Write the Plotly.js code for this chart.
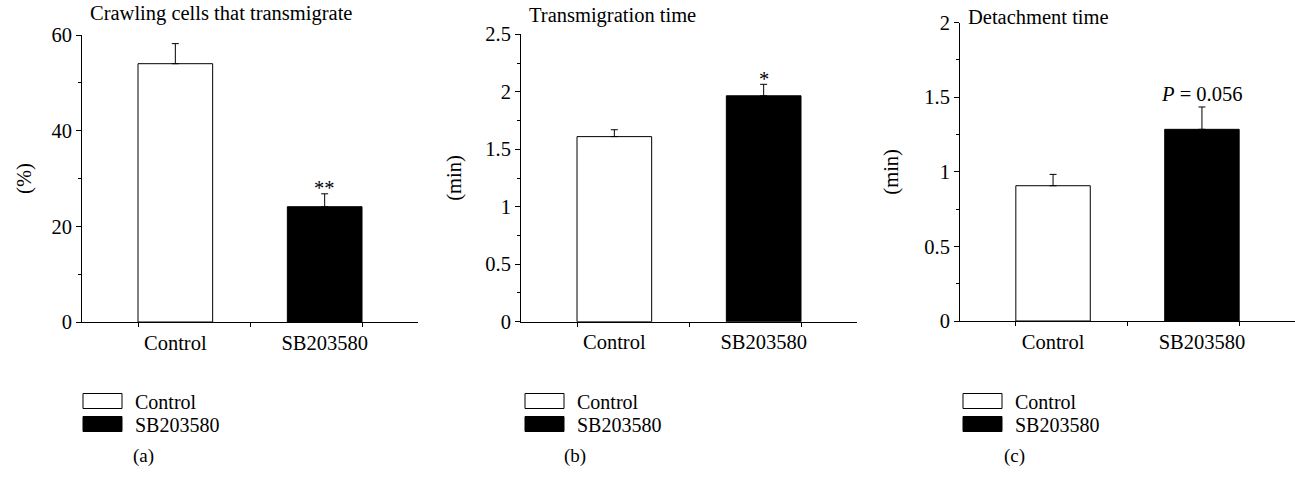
<!DOCTYPE html>
<html><head><meta charset="utf-8">
<script src="https://cdn.plot.ly/plotly-3.0.1.min.js"></script>
<style>
html,body{margin:0;padding:0;background:#fff;}
#chart{width:1295px;height:479px;}
</style></head><body><div id="chart"></div>
<script>
// ---- data ----
const categories = ['Control', 'SB203580'];
const crawlMean = [54.0, 24.1];
const crawlErr = [4.2, 2.7];
const transMean = [1.61, 1.965];
const transErr = [0.06, 0.10];
const detachMean = [0.907, 1.285];
const detachErr = [0.076, 0.15];
const panelTitles = ['Crawling cells that transmigrate', 'Transmigration time', 'Detachment time'];
const yTitles = ['(%)', '(min)', '(min)'];
const panelLetters = ['(a)', '(b)', '(c)'];
const sigLabels = ['**', '*', '<i>P</i> = 0.056'];
const yRanges = [[0, 60], [0, 2.5], [0, 2]];
const yMajor = [20, 0.5, 0.5];
const yMinor = [10, 0.25, 0.25];

// ---- layout geometry ----
const W = 1295, H = 479;
const FONT = 'Liberation Serif, Times New Roman, serif';
const FS = 20.5;
const xDom = [[82 / W, 418 / W], [521 / W, 857 / W], [960 / W, 1]];
const yDom = [[1 - 322 / H, 1 - 35 / H], [1 - 321.7 / H, 1 - 34.3 / H], [1 - 321 / H, 1 - 22.7 / H]];
const xRange = [-0.625, 1.625];
const fills = ['#ffffff', '#000000'];

const panels = [
  {mean: crawlMean, err: crawlErr},
  {mean: transMean, err: transErr},
  {mean: detachMean, err: detachErr}
];

const traces = [];
const annotations = [];
const layout = {
  width: W, height: H,
  margin: {l: 0, r: 0, t: 0, b: 0},
  paper_bgcolor: '#fff', plot_bgcolor: '#fff',
  barmode: 'overlay',
  font: {family: FONT, size: FS, color: '#000'},
  showlegend: true,
  annotations: annotations
};

const titleY = [1 - 14 / H, 1 - 16 / H, 1 - 17 / H];
const letterX = [143 / W, 575 / W, 1014 / W];
const legendX = [70 / W, 512 / W, 950 / W];
const legendRowY = [1 - 401 / H, 1 - 424 / H];
const sigShift = [-7, -8, 0];
const yStandoff = [14, 18, 20];

panels.forEach((p, k) => {
  const sfx = k === 0 ? '' : String(k + 1);
  categories.forEach((c, i) => {
    const n = k * 2 + i;
    const legName = n === 0 ? 'legend' : 'legend' + (n + 1);
    traces.push({
      type: 'bar',
      x: [i], y: [p.mean[i]],
      width: 0.5,
      name: c,
      legend: legName,
      xaxis: 'x' + sfx, yaxis: 'y' + sfx,
      marker: {color: fills[i], line: {color: '#000', width: 1}},
      error_y: {type: 'data', array: [p.err[i]], arrayminus: [0], symmetric: false,
                color: '#000', thickness: 1, width: 3.5},
      hoverinfo: 'y'
    });
    layout[legName] = {
      x: legendX[k], y: legendRowY[i], xanchor: 'left', yanchor: 'middle',
      bgcolor: 'rgba(0,0,0,0)', borderwidth: 0,
      font: {family: FONT, size: 20, color: '#000'},
      itemwidth: 55, itemclick: false, itemdoubleclick: false
    };
  });
  layout['xaxis' + sfx] = {
    domain: xDom[k], range: xRange, anchor: 'y' + sfx,
    showline: true, linecolor: '#000', linewidth: 1,
    showgrid: false, zeroline: false, fixedrange: true,
    tickmode: 'array', tickvals: [0, 1], ticktext: categories, ticks: '',
    ticklabelstandoff: 2,
    tickfont: {family: FONT, size: FS, color: '#000'},
    minor: {tickmode: 'array', tickvals: [-0.25, 0.5, 1.25], ticks: 'outside', ticklen: 4,
            tickcolor: '#000', tickwidth: 1, showgrid: false}
  };
  layout['yaxis' + sfx] = {
    domain: yDom[k], range: yRanges[k], anchor: 'x' + sfx,
    showline: true, linecolor: '#000', linewidth: 1,
    showgrid: false, zeroline: false, fixedrange: true,
    dtick: yMajor[k], tick0: 0, ticks: 'outside', ticklen: 5, tickcolor: '#000',
    tickfont: {family: FONT, size: FS, color: '#000'},
    minor: {dtick: yMinor[k], tick0: 0, ticks: 'outside', ticklen: 3, tickcolor: '#000', showgrid: false},
    title: {text: yTitles[k], font: {family: FONT, size: FS, color: '#000'}, standoff: yStandoff[k]}
  };
  annotations.push({
    xref: 'x' + sfx + ' domain', yref: 'paper', x: 0, y: titleY[k], xshift: 6,
    xanchor: 'left', yanchor: 'middle', showarrow: false,
    text: panelTitles[k], font: {family: FONT, size: FS, color: '#000'}
  });
  annotations.push({
    xref: 'paper', yref: 'paper', x: letterX[k], y: 1 - 456 / H,
    xanchor: 'center', yanchor: 'middle', showarrow: false,
    text: panelLetters[k], font: {family: FONT, size: 19, color: '#000'}
  });
  annotations.push({
    xref: 'x' + sfx, yref: 'y' + sfx, x: 1, y: p.mean[1] + p.err[1],
    xanchor: 'center', yanchor: 'bottom', yshift: sigShift[k], showarrow: false,
    text: sigLabels[k], font: {family: FONT, size: FS, color: '#000'}
  });
});

Plotly.newPlot('chart', traces, layout, {displayModeBar: false, staticPlot: true}).then(() => {
  // widen the legend swatches to the reference's 39x15 boxes
  document.querySelectorAll('.legendpoints path').forEach(el => {
    el.setAttribute('d', 'M19.5,7.5H-19.5V-7.5H19.5Z');
  });
});
</script></body></html>
